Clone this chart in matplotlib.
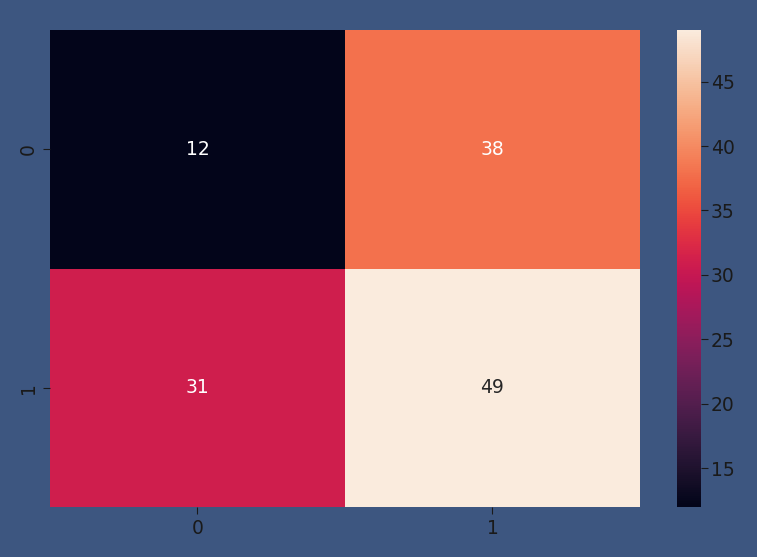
import numpy as np
import matplotlib.pyplot as plt
import seaborn as sns

row_labels = ['0', '1']
col_labels = ['0', '1']
conf_values = np.array([[12, 38],
                        [31, 49]])

bg = '#3d5680'
fig = plt.figure(figsize=(7.57, 5.57), dpi=100, facecolor=bg)
ax = fig.add_axes([50 / 757, 50 / 557, 590 / 757, 477 / 557])
cax = fig.add_axes([677 / 757, 50 / 557, 24 / 757, 477 / 557])

sns.heatmap(conf_values, annot=True, fmt='d', ax=ax, cbar_ax=cax,
            xticklabels=col_labels, yticklabels=row_labels,
            annot_kws={'fontsize': 13.5})

ax.tick_params(labelsize=13.5, colors='#1a1a1a', length=5, pad=4)
cax.tick_params(labelsize=13.5, colors='#1a1a1a', length=5, pad=2)
cax.yaxis.set_ticks([15, 20, 25, 30, 35, 40, 45])

plt.savefig('out.png', facecolor=bg)
